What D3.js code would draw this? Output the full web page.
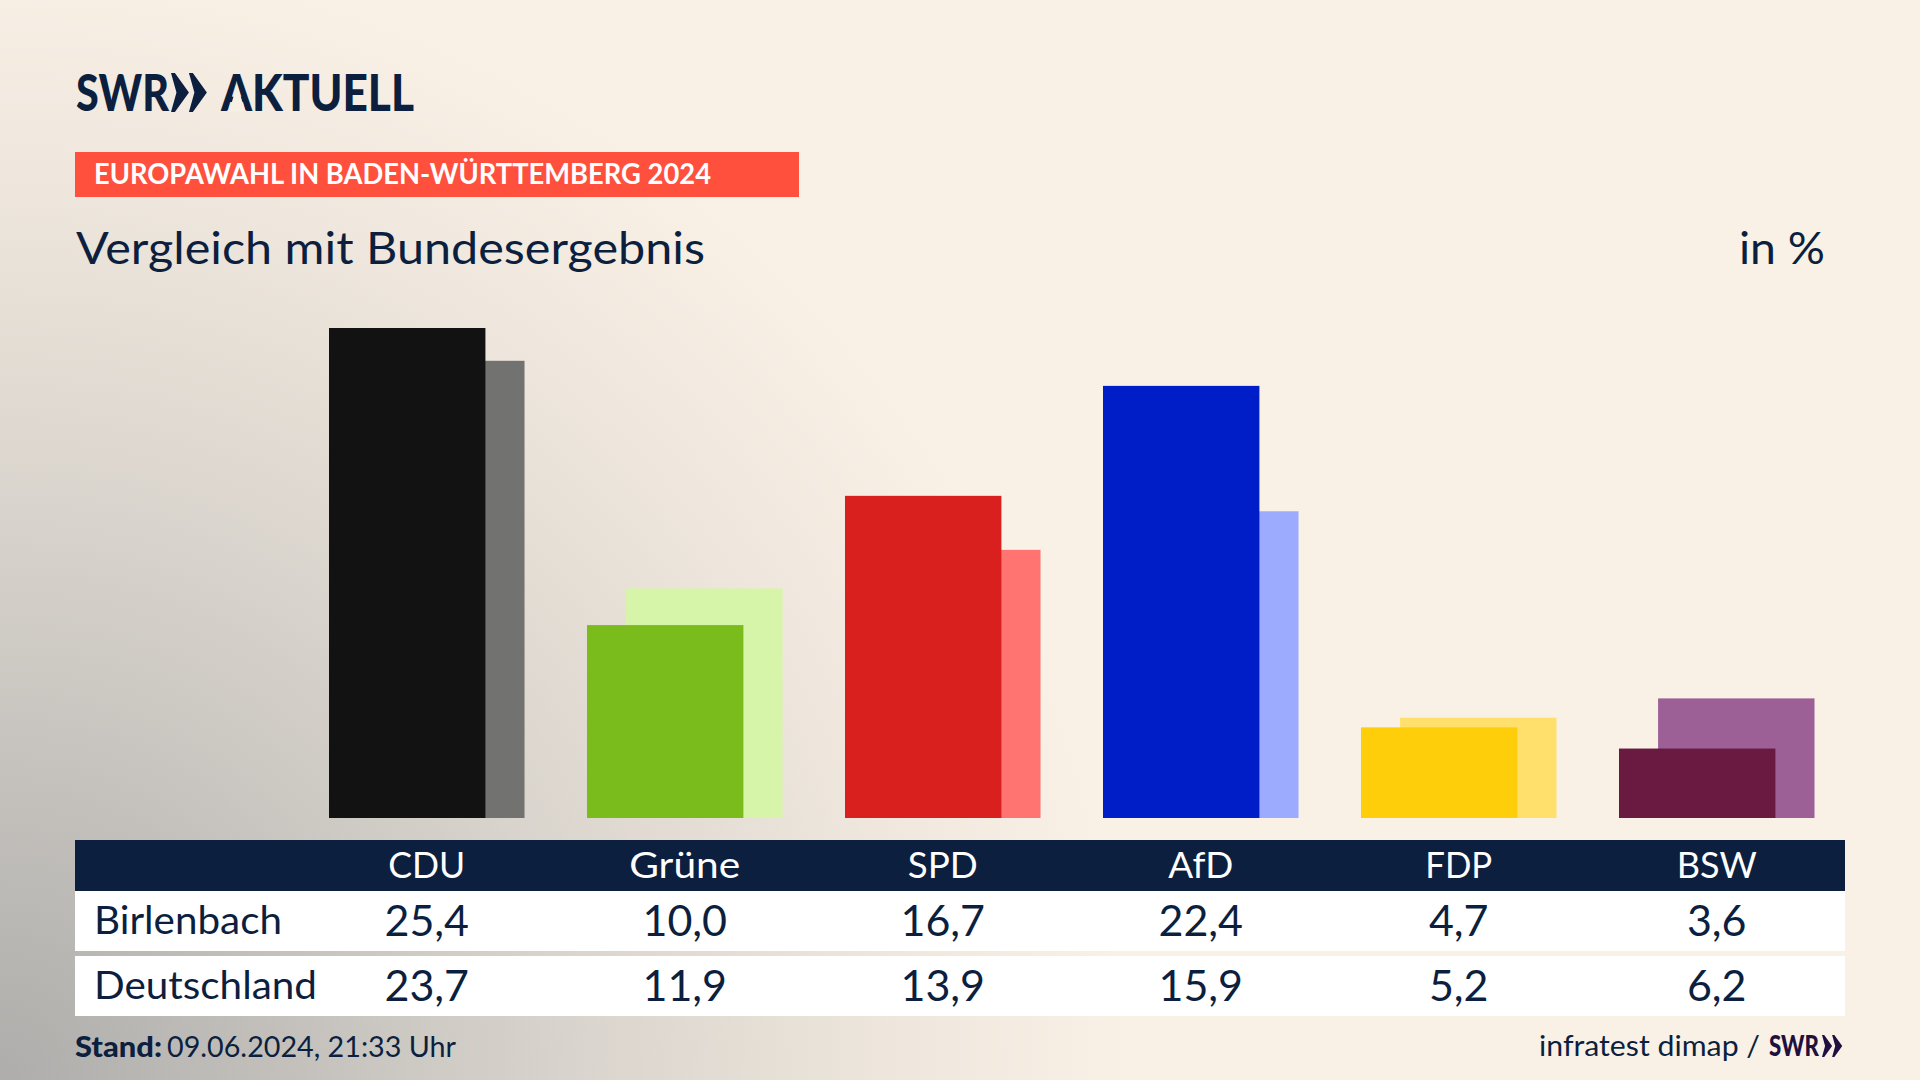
<!DOCTYPE html>
<html>
<head>
<meta charset="utf-8">
<script src="https://cdn.jsdelivr.net/npm/d3@7"></script>
<style>
  html, body { margin: 0; padding: 0; background: #f9f1e6; overflow: hidden; }
  text { font-family: "Lato", "Noto Sans", sans-serif; fill: #0c1f3f; }
</style>
</head>
<body>
<div id="chart"></div>
<script>
var categories = ["CDU", "Grüne", "SPD", "AfD", "FDP", "BSW"];
var birlenbach = [25.4, 10.0, 16.7, 22.4, 4.7, 3.6];
var deutschland = [23.7, 11.9, 13.9, 15.9, 5.2, 6.2];
var darkColors = ["#121212", "#7abc1b", "#d9201f", "#001ec8", "#ffce0b", "#6a1a40"];
var paleColors = ["#727270", "#d7f5a8", "#ff7370", "#9dabff", "#ffe06d", "#9c6097"];
var rowNames = ["Birlenbach", "Deutschland"];

var w = 1920, h = 1080;
var navy = "#0c1f3f";

var svg = d3.select("#chart").append("svg")
  .attr("width", w)
  .attr("height", h)
  .style("display", "block");

// grey glow from the bottom left corner
var grad = svg.append("defs").append("radialGradient")
  .attr("id", "glow")
  .attr("gradientUnits", "userSpaceOnUse")
  .attr("cx", 0).attr("cy", h).attr("r", 1130);
grad.append("stop").attr("offset", "0%").attr("stop-color", "#aeadab");
grad.append("stop").attr("offset", "50%").attr("stop-color", "#d8d3cc");
grad.append("stop").attr("offset", "80%").attr("stop-color", "#efe7dd");
grad.append("stop").attr("offset", "100%").attr("stop-color", "#f9f1e6");
svg.append("rect").attr("width", w).attr("height", h).attr("fill", "url(#glow)");

var x = d3.scaleBand().domain(categories).range([329, 1814.5]).paddingInner(0.2422);
var y = d3.scaleLinear().domain([0, 25.4]).range([818, 328]);
var barW = x.bandwidth() * 0.8;
var shift = x.bandwidth() * 0.2;

// national result sits behind, shifted right
svg.selectAll(".pale").data(deutschland).enter().append("rect")
  .attr("class", "pale")
  .attr("x", function(d, i) { return x(categories[i]) + shift; })
  .attr("y", function(d) { return y(d); })
  .attr("width", barW)
  .attr("height", function(d) { return y(0) - y(d); })
  .attr("fill", function(d, i) { return paleColors[i]; });

svg.selectAll(".dark").data(birlenbach).enter().append("rect")
  .attr("class", "dark")
  .attr("x", function(d, i) { return x(categories[i]); })
  .attr("y", function(d) { return y(d); })
  .attr("width", barW)
  .attr("height", function(d) { return y(0) - y(d); })
  .attr("fill", function(d, i) { return darkColors[i]; });

function label(txt, px, py, size, opts) {
  opts = opts || {};
  var t = svg.append("text")
    .attr("x", px).attr("y", py)
    .attr("font-size", size)
    .attr("font-weight", opts.weight || 400)
    .attr("text-anchor", opts.anchor || "start")
    .text(txt);
  if (opts.fill) t.style("fill", opts.fill);
  if (opts.len) t.attr("textLength", opts.len).attr("lengthAdjust", "spacingAndGlyphs");
  return t;
}

// two arrow heads, s = height
function chevrons(px, py, s, color) {
  var one = "M0 0 L" + (0.1 * s) + " 0 L" + (0.46 * s) + " " + (0.5 * s) + " L" + (0.1 * s) + " " + s + " L0 " + s + " L" + (0.14 * s) + " " + (0.5 * s) + " Z";
  [0, 0.46 * s].forEach(function(dx) {
    svg.append("path").attr("d", one).attr("fill", color)
      .attr("transform", "translate(" + (px + dx) + "," + py + ")");
  });
}

// logo
label("SWR", 76, 111, 52, { weight: 900, len: 93 });
chevrons(171, 73, 39, navy);
label("AKTUELL", 221, 111, 52, { weight: 900, len: 193 });
// the logo's A has no crossbar
svg.append("path").attr("d", "M237 85 L245.5 111.5 L229 111.5 Z").attr("fill", "#f8f0e5");

// banner and titles
svg.append("rect").attr("x", 75).attr("y", 152).attr("width", 724).attr("height", 45).attr("fill", "#ff4f3d");
label("EUROPAWAHL IN BADEN-WÜRTTEMBERG 2024", 94, 184, 28, { weight: 700, fill: "#fff", len: 617 });
label("Vergleich mit Bundesergebnis", 76, 264, 45, { len: 629 });
label("in %", 1825, 264, 45, { anchor: "end", len: 86 });

// table
var tableX = 75, tableW = 1770;
svg.append("rect").attr("x", tableX).attr("y", 840).attr("width", tableW).attr("height", 51).attr("fill", navy);
svg.append("rect").attr("x", tableX).attr("y", 891).attr("width", tableW).attr("height", 60).attr("fill", "#fff");
svg.append("rect").attr("x", tableX).attr("y", 956).attr("width", tableW).attr("height", 60).attr("fill", "#fff");

function colX(c) { return x(c) + x.bandwidth() / 2; }
function fmt(v) { return d3.format(".1f")(v).replace(".", ","); }

var headLen = { "CDU": 77, "Grüne": 111, "SPD": 70, "AfD": 65, "FDP": 67, "BSW": 80 };
categories.forEach(function(c, i) {
  label(c, colX(c), 878, 37, { anchor: "middle", fill: "#fff", len: headLen[c] });
  label(fmt(birlenbach[i]), colX(c), 936, 43, { anchor: "middle" });
  label(fmt(deutschland[i]), colX(c), 1001, 43, { anchor: "middle" });
});
label(rowNames[0], 94, 934, 38, { len: 188 });
label(rowNames[1], 94, 999, 38, { len: 223 });

// footer
label("Stand:", 75, 1057, 29, { weight: 900, len: 87 });
label("09.06.2024, 21:33 Uhr", 167, 1057, 29, { len: 289 });
label("infratest dimap /", 1539, 1056, 29, { len: 221 });
label("SWR", 1769, 1056, 28, { weight: 900, fill: "#21103f", len: 50 });
chevrons(1822, 1035, 22, "#21103f");
</script>
</body>
</html>
